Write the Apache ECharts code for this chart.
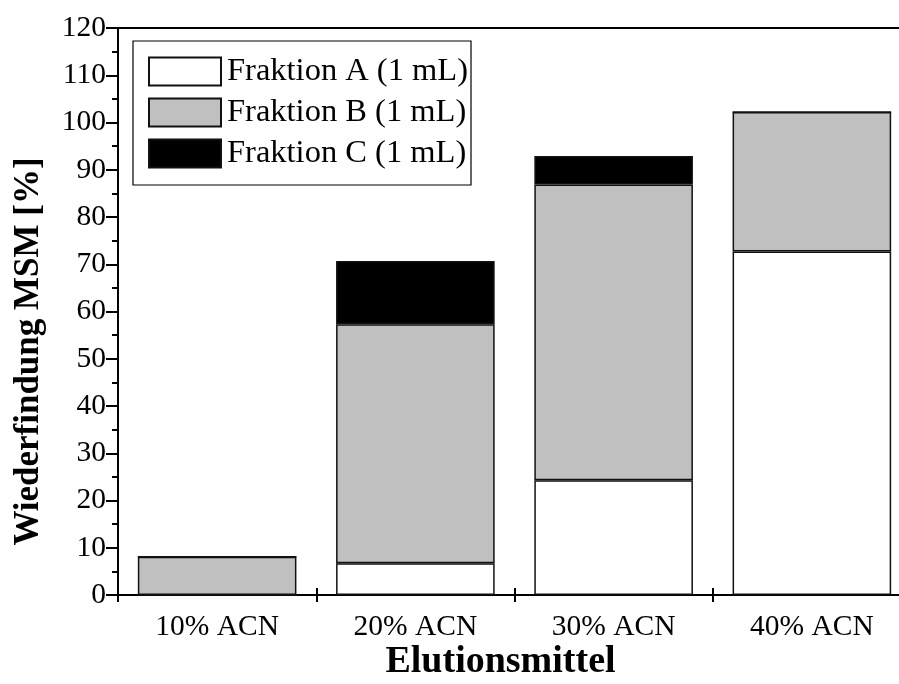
<!DOCTYPE html>
<html>
<head>
<meta charset="utf-8">
<script src="https://cdn.jsdelivr.net/npm/echarts@6/dist/echarts.min.js"></script>
<style>
  html, body { margin: 0; padding: 0; background: #fff; overflow: hidden; }
  #chart { width: 899px; height: 684px; }
</style>
</head>
<body>
<div id="chart"></div>
<script>
// Elution solvent categories
const categories = ['10% ACN', '20% ACN', '30% ACN', '40% ACN'];
// Recovery per fraction (stacked), in %
const fractionA = [0, 6.7, 24.3, 72.7];
const fractionB = [8.1, 50.6, 62.6, 29.5];
const fractionC = [0, 13.4, 6.0, 0];
const seriesNames = ['Fraktion A (1 mL)', 'Fraktion B (1 mL)', 'Fraktion C (1 mL)'];
const yTicks = { min: 0, max: 120, step: 10 };

const FONT = 'Liberation Serif, Times New Roman, serif';
const chart = echarts.init(document.getElementById('chart'), null, { renderer: 'canvas', width: 899, height: 684 });

function barSeries(name, data, color) {
  return {
    name: name,
    type: 'bar',
    stack: 'total',
    data: data,
    barWidth: '80%',
    itemStyle: { color: color, borderColor: '#111', borderWidth: 1.5 },
    emphasis: { disabled: true }
  };
}

chart.setOption({
  animation: false,
  backgroundColor: '#fff',
  // plot frame continues past the right edge of the canvas
  grid: { left: 118, top: 28, width: 793, height: 567, containLabel: false, outerBoundsMode: 'none' },
  legend: {
    orient: 'vertical',
    left: 133,
    top: 41,
    padding: [14, 3, 15, 15],
    itemWidth: 72,
    itemHeight: 28,
    itemGap: 8,
    icon: 'rect',
    borderColor: '#000',
    borderWidth: 1.2,
    backgroundColor: '#fff',
    textStyle: { fontFamily: FONT, fontSize: 32.5, color: '#000', padding: [0, 0, 0, 1] },
    data: seriesNames
  },
  xAxis: [
    {
      type: 'category',
      data: categories,
      position: 'bottom',
      axisLine: { lineStyle: { color: '#000', width: 2 } },
      axisTick: { show: true, length: 7, lineStyle: { color: '#000', width: 2 } },
      axisLabel: { fontFamily: FONT, fontSize: 29.5, color: '#000', margin: 17 },
      name: 'Elutionsmittel',
      nameLocation: 'middle',
      nameMoveOverlap: false,
      nameGap: 48,
      nameTextStyle: { fontFamily: FONT, fontSize: 38, fontWeight: 'bold', color: '#000', padding: [0, 28, 0, 0] }
    },
    {
      type: 'category',
      data: categories,
      position: 'bottom',
      axisLine: { show: false },
      axisTick: { show: true, inside: true, length: 7, lineStyle: { color: '#000', width: 2 } },
      axisLabel: { show: false }
    },
    {
      type: 'category',
      data: categories,
      position: 'top',
      axisLine: { lineStyle: { color: '#000', width: 2 } },
      axisTick: { show: false },
      axisLabel: { show: false }
    }
  ],
  yAxis: {
    type: 'value',
    min: yTicks.min,
    max: yTicks.max,
    interval: yTicks.step,
    axisLine: { show: true, lineStyle: { color: '#000', width: 2 } },
    axisTick: { show: true, length: 12, lineStyle: { color: '#000', width: 2 } },
    minorTick: { show: true, splitNumber: 2, length: 6, lineStyle: { color: '#000', width: 2 } },
    splitLine: { show: false },
    axisLabel: { fontFamily: FONT, fontSize: 29.5, color: '#000', margin: 12 },
    name: 'Wiederfindung MSM [%]',
    nameLocation: 'middle',
    nameMoveOverlap: false,
    nameGap: 72,
    nameTextStyle: { fontFamily: FONT, fontSize: 35, fontWeight: 'bold', color: '#000', padding: [0, 80, 0, 0] }
  },
  series: [
    barSeries(seriesNames[0], fractionA, '#ffffff'),
    barSeries(seriesNames[1], fractionB, '#c0c0c0'),
    barSeries(seriesNames[2], fractionC, '#000000')
  ]
});
</script>
</body>
</html>
